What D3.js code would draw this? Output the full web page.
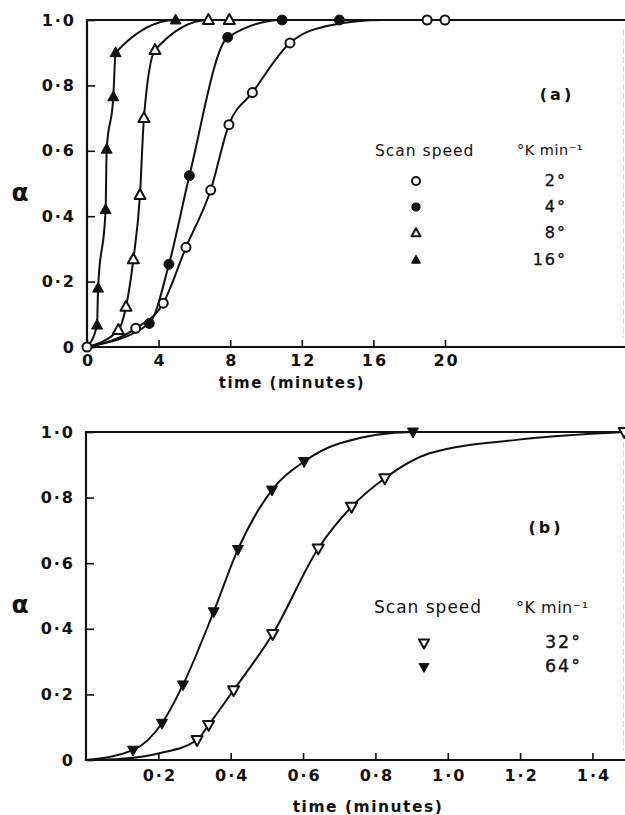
<!DOCTYPE html>
<html>
<head>
<meta charset="utf-8">
<script src="https://cdn.jsdelivr.net/npm/d3@7"></script>
<style>
  html, body { margin: 0; padding: 0; background: #fff; }
  svg { display: block; }
  text { font-family: "DejaVu Sans", sans-serif; fill: #111; }
</style>
</head>
<body>
<svg id="fig" width="625" height="815"></svg>
<script>
// ---------- data ----------
// fraction transformed (alpha) against time, for several DSC scan speeds

// axis ticks
const alphaTicks = [0, 0.2, 0.4, 0.6, 0.8, 1.0];
const alphaTickLabels = ["0", "0·2", "0·4", "0·6", "0·8", "1·0"];
const timeTicksA = [0, 4, 8, 12, 16, 20];
const timeTickLabelsA = ["0", "4", "8", "12", "16", "20"];
const timeTicksB = [0.2, 0.4, 0.6, 0.8, 1.0, 1.2, 1.4];
const timeTickLabelsB = ["0·2", "0·4", "0·6", "0·8", "1·0", "1·2", "1·4"];

// panel (a) - measured points [time (min), alpha]
const run2 = [[0, 0], [2.72, 0.057], [4.26, 0.134], [5.53, 0.305], [6.91, 0.48], [7.93, 0.68],
              [9.24, 0.778], [11.34, 0.93], [19.0, 1.0], [20.0, 1.0]];
const run4 = [[3.48, 0.072], [4.58, 0.253], [5.72, 0.524], [7.86, 0.947], [10.9, 1.0], [14.1, 1.0]];
const run8 = [[1.75, 0.052], [2.18, 0.123], [2.59, 0.268], [2.96, 0.465], [3.18, 0.70],
              [3.8, 0.908], [6.78, 1.0], [7.95, 1.0]];
const run16 = [[0.56, 0.067], [0.62, 0.18], [1.04, 0.42], [1.1, 0.605], [1.47, 0.765],
               [1.6, 0.90], [4.95, 1.0]];

// extra knots of the smooth fitted curves in panel (a)
const fit2 = [[13.7, 0.985], [16.5, 1.0], [30, 1.0]];
const fit4 = [[0, 0], [30, 1.0]];
const fit8 = [[0, 0], [30, 1.0]];
const fit16 = [[0, 0], [30, 1.0]];

// panel (b) - measured points [time (min), alpha]
const run32 = [[0.307, 0.061], [0.339, 0.107], [0.408, 0.213], [0.516, 0.384], [0.642, 0.645],
               [0.734, 0.772], [0.826, 0.859], [1.488, 1.0]];
const run64 = [[0.13, 0.03], [0.21, 0.112], [0.268, 0.229], [0.353, 0.452], [0.42, 0.642],
               [0.514, 0.823], [0.603, 0.91], [0.904, 1.0]];

// extra knots of the smooth fitted curves in panel (b)
const fit32 = [[0, 0], [0.1, 0.004], [0.2, 0.02], [0.95, 0.935], [1.19, 0.976]];
const fit64 = [[0, 0], [0.7, 0.965], [1.49, 1.0]];

// legends
const speedLabelsA = ["2°", "4°", "8°", "16°"];
const markerKindsA = ["circleOpen", "circleFilled", "triUpOpen", "triUpFilled"];
const speedLabelsB = ["32°", "64°"];
const markerKindsB = ["triDownOpen", "triDownFilled"];

// ---------- drawing ----------
const svg = d3.select("#fig");
const INK = "#111";

function marker(g, kind, cx, cy, s) {
  const open = kind.endsWith("Open");
  const fill = open ? "#fff" : INK;
  if (kind.startsWith("circle")) {
    g.append("circle").attr("cx", cx).attr("cy", cy).attr("r", s * 0.45)
      .attr("fill", fill).attr("stroke", INK).attr("stroke-width", open ? 2 : 1);
  } else {
    const h = s * 0.9;
    const dir = kind.startsWith("triUp") ? 1 : -1;
    const pts = [
      [cx, cy - dir * h * 0.6],
      [cx - s / 2, cy + dir * h * 0.4],
      [cx + s / 2, cy + dir * h * 0.4]
    ];
    g.append("path").attr("d", "M" + pts.map(p => p.join(",")).join("L") + "Z")
      .attr("fill", fill).attr("stroke", INK).attr("stroke-width", open ? 2 : 1)
      .attr("stroke-linejoin", "round");
  }
}

function panel(opt) {
  const g = svg.append("g");
  const x = d3.scaleLinear().domain(opt.xDomain).range([opt.left, opt.right]);
  const y = d3.scaleLinear().domain([0, 1]).range([opt.bottom, opt.top]);

  // clip for the fitted curves
  const clipId = "clip-" + opt.id;
  svg.append("clipPath").attr("id", clipId).append("rect")
    .attr("x", opt.left).attr("y", opt.top)
    .attr("width", 625 - opt.left).attr("height", opt.bottom - opt.top);

  // y axis (inward ticks)
  const yAxis = d3.axisLeft(y).tickValues(alphaTicks)
    .tickFormat((d, i) => alphaTickLabels[i]).tickSize(-8).tickPadding(13);
  const ya = g.append("g").attr("transform", `translate(${opt.left},0)`).call(yAxis);
  ya.select(".domain").remove();
  ya.selectAll(".tick line").attr("stroke", INK).attr("stroke-width", 1.6);
  ya.selectAll(".tick text").attr("font-size", 16).attr("font-weight", "bold")
    .attr("letter-spacing", 2).attr("dx", 2).style("font-family", '"DejaVu Sans", sans-serif').attr("fill", INK);

  // x axis (inward ticks)
  const xAxis = d3.axisBottom(x).tickValues(opt.xTicks)
    .tickFormat((d, i) => opt.xTickLabels[i]).tickSize(-7).tickPadding(opt.xPad);
  const xa = g.append("g").attr("transform", `translate(0,${opt.bottom})`).call(xAxis);
  xa.select(".domain").remove();
  xa.selectAll(".tick line").attr("stroke", INK).attr("stroke-width", 1.6);
  xa.selectAll(".tick text").attr("font-size", 16).attr("font-weight", "bold")
    .attr("letter-spacing", 2).attr("dx", 1).style("font-family", '"DejaVu Sans", sans-serif').attr("fill", INK);

  // frame
  g.append("line").attr("x1", opt.left).attr("x2", 625).attr("y1", opt.top).attr("y2", opt.top)
    .attr("stroke", INK).attr("stroke-width", 2);
  g.append("line").attr("x1", opt.left).attr("x2", 625).attr("y1", opt.bottom).attr("y2", opt.bottom)
    .attr("stroke", INK).attr("stroke-width", 2.2);
  g.append("line").attr("x1", opt.left).attr("x2", opt.left).attr("y1", opt.top - 1).attr("y2", opt.bottom + 1)
    .attr("stroke", INK).attr("stroke-width", 2.2);
  g.append("line").attr("x1", 623.5).attr("x2", 623.5).attr("y1", opt.top + 10).attr("y2", opt.bottom - 10)
    .attr("stroke", "#d4d4d4").attr("stroke-width", 1).attr("stroke-dasharray", "6,3");

  // fitted curves
  const line = d3.line().x(d => x(d[0])).y(d => y(d[1])).curve(d3.curveMonotoneX);
  opt.series.forEach(s => {
    const pts = s.points.concat(s.fit).slice().sort((a, b) => a[0] - b[0]);
    g.append("path").attr("d", line(pts)).attr("fill", "none")
      .attr("stroke", INK).attr("stroke-width", 2).attr("clip-path", `url(#${clipId})`);
  });
  // measured points
  opt.series.forEach(s => {
    s.points.forEach(p => marker(g, s.kind, x(p[0]), y(p[1]), s.size));
  });

  // axis titles
  g.append("text").attr("x", opt.alphaX).attr("y", (opt.top + opt.bottom) / 2 + 10)
    .attr("text-anchor", "middle").attr("dominant-baseline", "middle")
    .attr("font-size", 25).attr("font-weight", "bold").text("α");
  g.append("text").attr("x", opt.timeX).attr("y", opt.timeY)
    .attr("text-anchor", "middle").attr("dominant-baseline", "middle")
    .attr("font-size", opt.timeSize).attr("font-weight", "bold").attr("letter-spacing", 1.5)
    .text("time (minutes)");

  // panel tag
  g.append("text").attr("x", opt.tagX).attr("y", opt.tagY)
    .attr("text-anchor", "middle").attr("dominant-baseline", "middle")
    .attr("font-size", 16).attr("font-weight", "bold").attr("letter-spacing", 3)
    .text(opt.tag);

  // legend
  const lg = opt.legend;
  g.append("text").attr("x", lg.x0).attr("y", lg.y0).attr("dominant-baseline", "middle")
    .attr("font-size", lg.fs).attr("letter-spacing", 1).text("Scan speed");
  g.append("text").attr("x", lg.x1).attr("y", lg.y0).attr("dominant-baseline", "middle")
    .attr("font-size", lg.fs - 1).attr("letter-spacing", 0.5).text("°K min⁻¹");
  lg.labels.forEach((lab, i) => {
    const yy = lg.rows[i];
    marker(g, lg.kinds[i], lg.symX, yy, lg.symSize);
    g.append("text").attr("x", lg.valX + 2).attr("y", yy).attr("text-anchor", "end")
      .attr("dominant-baseline", "middle").attr("font-size", lg.vfs).attr("letter-spacing", 2)
      .attr("stroke", INK).attr("stroke-width", 0.35).text(lab);
  });
}

panel({
  id: "a", left: 87, right: 624, top: 20, bottom: 347, xDomain: [0, 30],
  xTicks: timeTicksA, xTickLabels: timeTickLabelsA, xPad: 8,
  alphaX: 20, timeX: 292, timeY: 383, timeSize: 15,
  tag: "(a)", tagX: 557, tagY: 95,
  series: [
    { points: run2, fit: fit2, kind: "circleOpen", size: 10 },
    { points: run4, fit: fit4, kind: "circleFilled", size: 11 },
    { points: run8, fit: fit8, kind: "triUpOpen", size: 11 },
    { points: run16, fit: fit16, kind: "triUpFilled", size: 11 }
  ],
  legend: {
    x0: 375, x1: 517, y0: 151, fs: 15.5, vfs: 16, valX: 565, symX: 416, symSize: 9,
    rows: [181, 207, 233, 260], labels: speedLabelsA, kinds: markerKindsA
  }
});

panel({
  id: "b", left: 86, right: 625, top: 432, bottom: 760, xDomain: [0, 1.49],
  xTicks: timeTicksB, xTickLabels: timeTickLabelsB, xPad: 10,
  alphaX: 20, timeX: 368, timeY: 807, timeSize: 15.5,
  tag: "(b)", tagX: 546, tagY: 528,
  series: [
    { points: run32, fit: fit32, kind: "triDownOpen", size: 11 },
    { points: run64, fit: fit64, kind: "triDownFilled", size: 11 }
  ],
  legend: {
    x0: 374, x1: 516, y0: 608, fs: 17, vfs: 17.5, valX: 580, symX: 424, symSize: 10,
    rows: [643, 667], labels: speedLabelsB, kinds: markerKindsB
  }
});
</script>
</body>
</html>
